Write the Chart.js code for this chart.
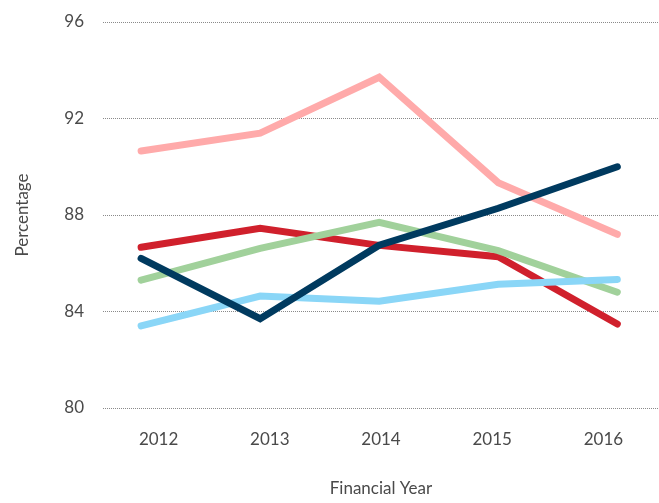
<!DOCTYPE html>
<html>
<head>
<meta charset="utf-8">
<script src="https://cdn.jsdelivr.net/npm/chart.js@4.4.0/dist/chart.umd.min.js"></script>
<style>
  html, body { margin: 0; padding: 0; background: #fff; }
  #wrap { width: 659px; height: 503px; }
</style>
</head>
<body>
<div id="wrap"><canvas id="c" width="659" height="503"></canvas></div>
<script>
const years = ["2012", "2013", "2014", "2015", "2016"];
const yTicks = [80, 84, 88, 92, 96];
const navy = [86.2, 83.7, 86.75, 88.28, 90.0];
const lightBlue = [83.4, 84.64, 84.43, 85.13, 85.33];
const green = [85.3, 86.62, 87.7, 86.52, 84.8];
const red = [86.66, 87.45, 86.74, 86.27, 83.48];
const pink = [90.65, 91.39, 93.71, 89.34, 87.2];

const font = { family: "Lato, 'Open Sans', sans-serif", size: 17 };
const textColor = '#4a4a4a';

function pts(arr) { return arr.map((v, i) => ({ x: i, y: v })); }
function ds(arr, color) {
  return {
    data: pts(arr), borderColor: color, backgroundColor: color,
    borderWidth: 7, pointRadius: 0, pointHoverRadius: 0, tension: 0,
    borderCapStyle: 'round', borderJoinStyle: 'miter', xAxisID: 'x2', yAxisID: 'y', clip: false
  };
}

new Chart(document.getElementById('c'), {
  type: 'line',
  data: {
    labels: years,
    datasets: [
      ds(navy, '#003a5f'),
      ds(lightBlue, '#8ad6f7'),
      ds(green, '#a1d19b'),
      ds(red, '#d0202c'),
      ds(pink, '#ffaaaa')
    ]
  },
  options: {
    responsive: false,
    animation: false,
    events: [],
    layout: { padding: { top: 22, right: 0, bottom: 0, left: 0 } },
    plugins: { legend: { display: false }, tooltip: { enabled: false } },
    scales: {
      x: {
        type: 'category',
        offset: true,
        grid: { display: false, drawTicks: false },
        border: { display: false },
        ticks: { font: font, color: textColor, padding: 21, maxRotation: 0 },
        title: { display: true, text: 'Financial Year', font: font, color: textColor, padding: { top: 0, bottom: 4 } },
        afterFit: s => { s.height = 95; s.paddingLeft = 0; s.paddingRight = 0; }
      },
      x2: {
        type: 'linear',
        display: false,
        min: -0.32,
        max: 4.35
      },
      y: {
        min: 80, max: 96,
        afterBuildTicks: s => { s.ticks = yTicks.map(v => ({ value: v })); },
        grid: { color: '#8a8a8a', lineWidth: 1, drawTicks: false },
        border: { display: false, dash: [1, 1] },
        ticks: { font: font, color: textColor, padding: 19 },
        title: { display: true, text: 'Percentage', font: font, color: textColor, padding: { top: 12, bottom: 0 } },
        afterFit: s => { s.width = 103; s.paddingTop = 0; s.paddingBottom = 0; }
      }
    }
  }
});
</script>
</body>
</html>
